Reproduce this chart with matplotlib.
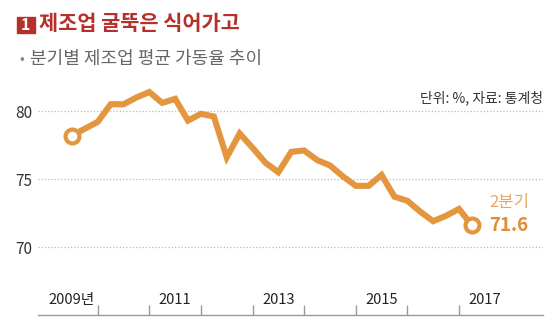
import numpy as np
import pandas as pd
import matplotlib
matplotlib.use('Agg')
import matplotlib.pyplot as plt
from matplotlib.patches import Rectangle
import matplotlib.transforms as mtransforms

plt.rcParams['font.family'] = ['Noto Sans CJK KR', 'DejaVu Sans']

# 분기별 제조업 평균 가동률 (2009년 3분기 ~ 2017년 2분기)
quarters = pd.period_range('2009Q3', '2017Q2', freq='Q')
rate = [78.2, 78.7, 79.2, 80.5, 80.5, 81.0, 81.4, 80.6, 80.9, 79.3, 79.8, 79.6,
        76.6, 78.35, 77.3, 76.2, 75.5, 77.0, 77.1, 76.4, 76.0, 75.2, 74.5, 74.5,
        75.3, 73.7, 73.4, 72.6, 71.9, 72.3, 72.8, 71.6]
year_ticks = [2010, 2011, 2012, 2013, 2014, 2015, 2016, 2017]
year_labels = {2009: '2009년', 2011: '2011', 2013: '2013', 2015: '2015', 2017: '2017'}
y_ticks = [70, 75, 80]

title = '제조업 굴뚝은 식어가고'
subtitle = '분기별 제조업 평균 가동율 추이'
source = '단위: %, 자료: 통계청'
last_label = '2분기'

line_color = '#E3963E'
red = '#B5302A'

# 분기 시작 시점을 x 좌표로 (예: 2009Q3 -> 2009.5)
x = np.array([q.year + (q.quarter - 1) / 4 for q in quarters])
y = np.array(rate)

W, H = 560, 333
fig = plt.figure(figsize=(W / 100, H / 100), dpi=100)
ax = fig.add_axes([37.7 / W, (H - 315) / H, (543 - 37.7) / W, (315 - 90) / H])

ax.set_xlim(2008.837, 2018.628)
ax.set_ylim(65, 81.55)

for v in y_ticks:
    ax.axhline(v, color='#bbbbbb', lw=0.9, ls=(0, (1, 1.6)), zorder=1)

ax.plot(x, y, color=line_color, lw=4.4, solid_joinstyle='miter', zorder=3, clip_on=False)
ax.plot([x[0], x[-1]], [y[0], y[-1]], 'o', ms=10, mfc='white', mec=line_color,
        mew=3, zorder=4, clip_on=False)

# 마지막 값 표시
ax.text(x[-1] + 0.33, y[-1] + 1.7, last_label, color='#E8A865', fontsize=12,
        ha='left', va='center')
ax.text(x[-1] + 0.33, y[-1], f'{y[-1]:.1f}', color='#E08D33', fontsize=13.5,
        fontweight='bold', ha='left', va='center')

# 축
for s in ['top', 'right', 'left']:
    ax.spines[s].set_visible(False)
ax.spines['bottom'].set_color('#999999')
ax.spines['bottom'].set_linewidth(1)
ax.set_xticks(year_ticks)
ax.set_xticklabels([])
ax.tick_params(axis='x', direction='in', length=7, width=1, color='#999999')
ax.set_yticks(y_ticks)
ax.set_yticklabels([str(v) for v in y_ticks])
ax.tick_params(axis='y', length=0, pad=4, labelsize=11, labelcolor='#333333')

trans = mtransforms.blended_transform_factory(ax.transData, ax.transAxes)
for yr, lab in year_labels.items():
    ax.text(yr + 0.5, 0.065, lab, transform=trans, ha='center', va='center',
            fontsize=10.5, color='#222222')

ax.text(1.0, (315 - 98) / 225, source, transform=ax.transAxes, ha='right',
        va='center', fontsize=10, color='#333333')

# 제목
fig.patches.append(Rectangle((16.7 / W, (H - 33) / H), 18.3 / W, 16.3 / H,
                             transform=fig.transFigure, color=red))
fig.text(25.9 / W, (H - 25) / H, '1', color='white', fontsize=11.5, fontweight='bold',
         ha='center', va='center')
fig.text(39 / W, (H - 24) / H, title, color=red, fontsize=15, fontweight='bold',
         ha='left', va='center')
fig.text(19 / W, (H - 59) / H, '•', color='#888888', fontsize=10, ha='left', va='center')
fig.text(30 / W, (H - 59) / H, subtitle, color='#666666', fontsize=13,
         ha='left', va='center')

fig.savefig('out.png', dpi=100)
